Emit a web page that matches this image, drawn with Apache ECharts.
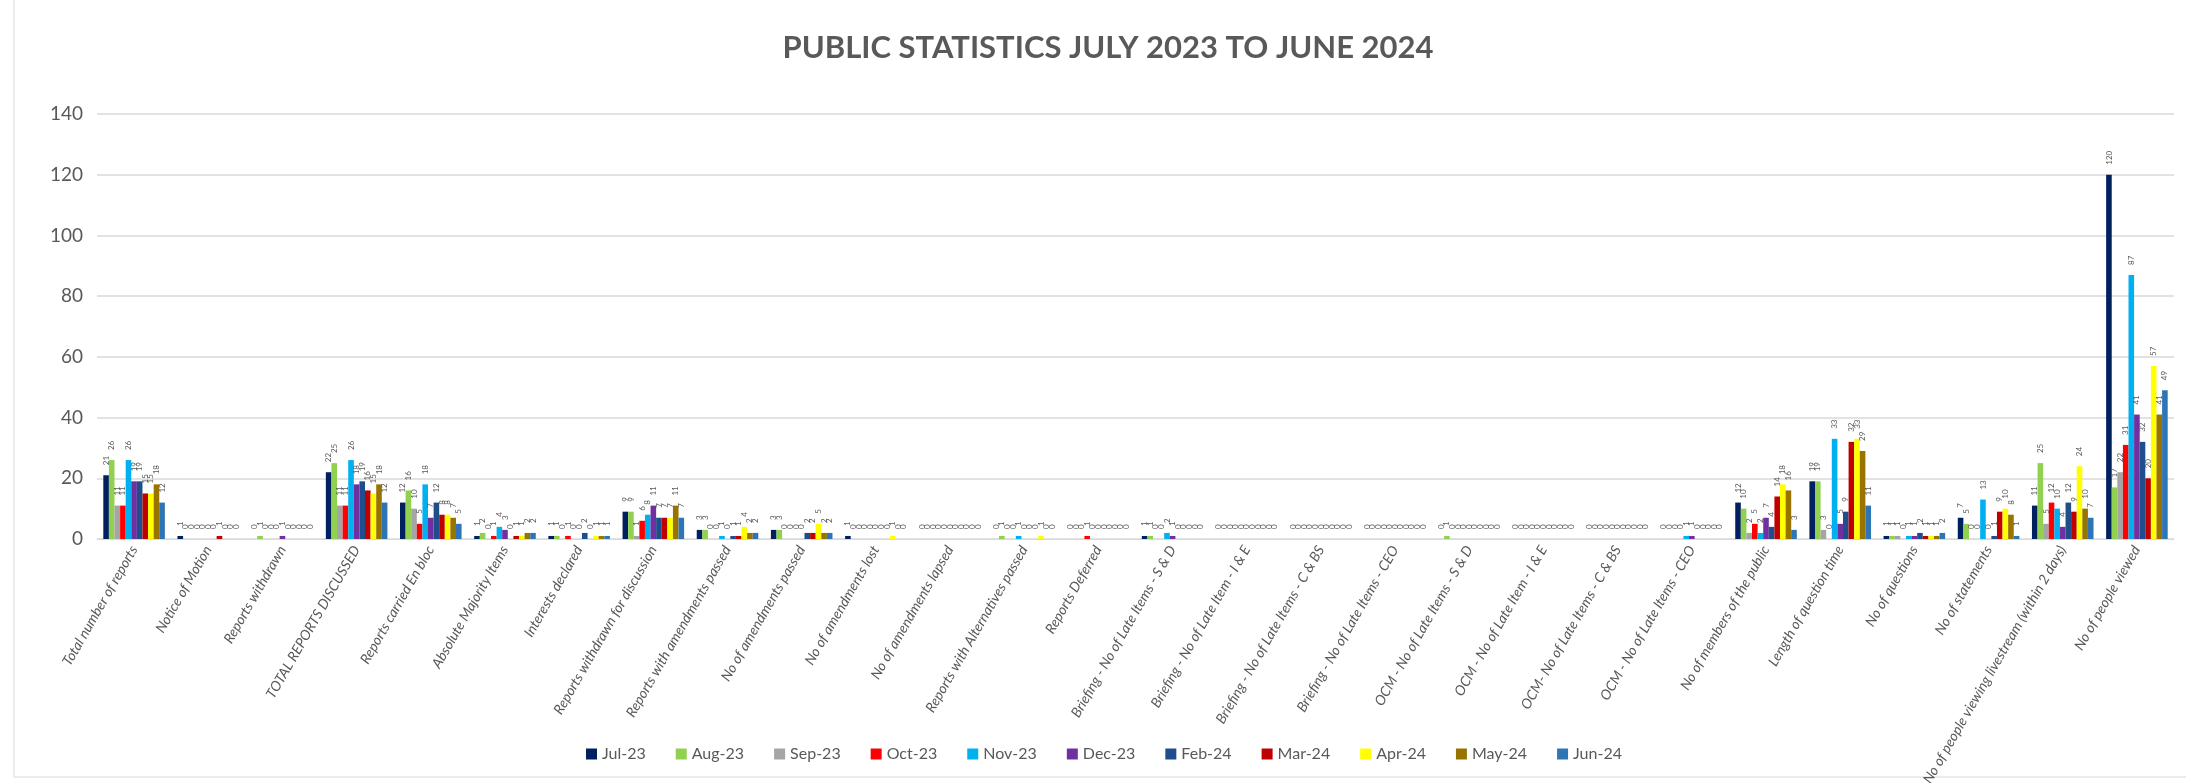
<!DOCTYPE html>
<html>
<head>
<meta charset="utf-8">
<script src="https://cdn.jsdelivr.net/npm/echarts@6/dist/echarts.min.js"></script>
<style>
html,body{margin:0;padding:0;background:#fff;}
#chart{width:2186px;height:783px;}
</style>
</head>
<body>
<div id="chart"></div>
<script>
const categories = [
  'Total number of reports','Notice of Motion','Reports withdrawn','TOTAL REPORTS DISCUSSED',
  'Reports carried En bloc','Absolute Majority Items','Interests declared',
  'Reports withdrawn for discussion','Reports with amendments passed','No of amendments passed',
  'No of amendments lost','No of amendments lapsed','Reports with Alternatives passed',
  'Reports Deferred','Briefing - No of Late Items - S & D','Briefing - No of Late Item - I & E',
  'Briefing - No of Late Items - C & BS','Briefing - No of Late Items - CEO',
  'OCM - No of Late Items - S & D','OCM - No of Late Item - I & E','OCM- No of Late Items - C & BS',
  'OCM - No of Late Items - CEO','No of members of the public','Length of question time',
  'No of questions','No of statements','No of people viewing livestream (within 2 days)',
  'No of people viewed'
];
const months = ['Jul-23','Aug-23','Sep-23','Oct-23','Nov-23','Dec-23','Feb-24','Mar-24','Apr-24','May-24','Jun-24'];
const colors = ['#002060','#92D050','#A5A5A5','#FF0000','#00B0F0','#7030A0','#1F4E8C','#C00000','#FFFF00','#997300','#2E75B6'];

const jul23 = [21,1,0,22,12,1,1,9,3,3,1,0,0,0,1,0,0,0,0,0,0,0,12,19,1,7,11,120];
const aug23 = [26,0,1,25,16,2,1,9,3,3,0,0,1,0,1,0,0,0,1,0,0,0,10,19,1,5,25,17];
const sep23 = [11,0,0,11,10,0,0,1,0,0,0,0,0,0,0,0,0,0,0,0,0,0,2,3,1,0,5,22];
const oct23 = [11,0,0,11,5,1,1,6,0,0,0,0,0,1,0,0,0,0,0,0,0,0,5,0,0,0,12,31];
const nov23 = [26,0,0,26,18,4,0,8,1,0,0,0,1,0,2,0,0,0,0,0,0,1,2,33,1,13,10,87];
const dec23 = [19,0,1,18,7,3,0,11,0,0,0,0,0,0,1,0,0,0,0,0,0,1,7,5,1,0,4,41];
const feb24 = [19,0,0,19,12,0,2,7,1,2,0,0,0,0,0,0,0,0,0,0,0,0,4,9,2,1,12,32];
const mar24 = [15,1,0,16,8,1,0,7,1,2,0,0,0,0,0,0,0,0,0,0,0,0,14,32,1,9,9,20];
const apr24 = [15,0,0,15,8,1,1,7,4,5,1,0,1,0,0,0,0,0,0,0,0,0,18,33,1,10,24,57];
const may24 = [18,0,0,18,7,2,1,11,2,2,0,0,0,0,0,0,0,0,0,0,0,0,16,29,1,8,10,41];
const jun24 = [12,0,0,12,5,2,1,7,2,2,0,0,0,0,0,0,0,0,0,0,0,0,3,11,2,1,7,49];
const seriesValues = [jul23,aug23,sep23,oct23,nov23,dec23,feb24,mar24,apr24,may24,jun24];

const yMin = 0, yMax = 140, yStep = 20;

const FONT = 'Lato, "Liberation Sans", sans-serif';
const chart = echarts.init(document.getElementById('chart'));

const series = months.map((m, i) => ({
  name: m,
  type: 'bar',
  data: seriesValues[i],
  itemStyle: { color: colors[i] },
  barGap: '0%',
  barCategoryGap: '17%',
  label: {
    show: true,
    position: 'top',
    rotate: 90,
    align: 'left',
    verticalAlign: 'middle',
    distance: 10,
    fontSize: 8,
    color: '#595959',
    fontFamily: FONT
  }
}));

chart.setOption({
  animation: false,
  backgroundColor: '#ffffff',
  color: colors,
  title: {
    text: 'PUBLIC STATISTICS JULY 2023 TO JUNE 2024',
    left: 1103,
    top: 27,
    textAlign: 'center',
    textStyle: { fontFamily: FONT, fontSize: 31, fontWeight: 'bold', color: '#595959' }
  },
  legend: {
    data: months,
    left: 581,
    top: 741,
    itemWidth: 11,
    itemHeight: 11,
    itemGap: 30,
    icon: 'rect',
    textStyle: { fontFamily: FONT, fontSize: 16, color: '#595959' }
  },
  grid: { left: 97, right: 12, top: 114, bottom: 244, containLabel: false, outerBoundsMode: 'none' },
  xAxis: {
    type: 'category',
    data: categories,
    axisTick: { show: false },
    axisLine: { lineStyle: { color: '#D9D9D9', width: 1 } },
    axisLabel: {
      interval: 0,
      rotate: 60,
      fontFamily: FONT,
      fontStyle: 'italic',
      fontSize: 14,
      color: '#595959',
      margin: 8
    }
  },
  yAxis: {
    type: 'value',
    min: yMin,
    max: yMax,
    interval: yStep,
    axisLine: { show: false },
    axisTick: { show: false },
    axisLabel: { fontFamily: FONT, fontSize: 19, color: '#595959', margin: 14 },
    splitLine: { lineStyle: { color: '#D9D9D9', width: 1.5 } }
  },
  graphic: [{
    type: 'rect',
    shape: { x: 14, y: -2, width: 2190, height: 779 },
    style: { fill: 'none', stroke: '#D9D9D9', lineWidth: 1 },
    silent: true
  }],
  series: series
});
</script>
</body>
</html>
